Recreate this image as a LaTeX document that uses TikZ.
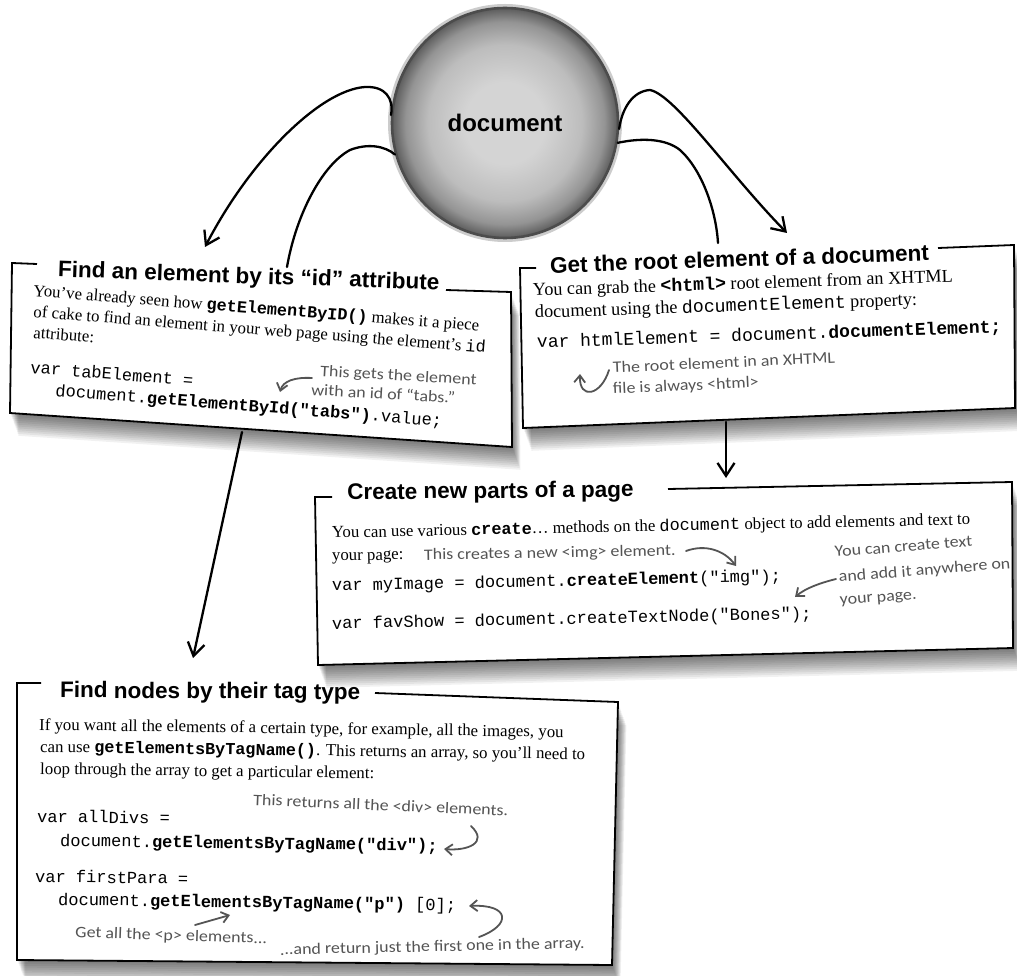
\documentclass[tikz,border=0pt]{standalone}
\usepackage{fontspec}
\setmainfont{Liberation Serif}
\newfontfamily\headfont{Liberation Sans}
\newfontfamily\cfont{Liberation Mono}
\newfontfamily\hfont[FakeStretch=1.12]{Carlito}
\usetikzlibrary{shapes.geometric,arrows.meta}
\definecolor{handgray}{gray}{0.33}
\definecolor{dcA}{gray}{0.83}
\definecolor{dcB}{gray}{0.74}
\definecolor{dcC}{gray}{0.58}
\definecolor{dcD}{gray}{0.36}
\pgfdeclareradialshading{docshade}{\pgfpoint{0bp}{0bp}}{color(0bp)=(dcA); color(9bp)=(dcA); color(17bp)=(dcB); color(22bp)=(dcC); color(25bp)=(dcD); color(50bp)=(dcD)}
\newcommand\cd[1]{{\cfont #1}}
\newcommand\cb[1]{{\cfont\bfseries #1}}
\newcommand\qshadow[8]{%
  \foreach \k in {1,...,12}{%
    \fill[black,opacity=0.055] (#1+0.7*\k,#2+1.9*\k) -- (#3+0.7*\k,#4+1.9*\k) -- (#5+0.7*\k,#6+1.9*\k) -- (#7+0.7*\k,#8+1.9*\k) -- cycle;}}
\tikzset{
  titletxt/.style={font=\headfont\bfseries\fontsize{22.5}{25}\selectfont, anchor=west, inner sep=0pt},
  bodytxt/.style={font=\fontsize{16.8}{20}\selectfont, anchor=base west, inner sep=0pt},
  bigbodytxt/.style={font=\fontsize{18.2}{22}\selectfont, anchor=base west, inner sep=0pt},
  codetxt/.style={font=\cfont\fontsize{17}{20}\selectfont, anchor=base west, inner sep=0pt},
  bigcodetxt/.style={font=\cfont\fontsize{18}{22}\selectfont, anchor=base west, inner sep=0pt},
  handtxt/.style={font=\hfont\fontsize{16}{19}\selectfont, text=handgray, anchor=base west, inner sep=0pt},
  boxedge/.style={draw=black, line width=1.8pt, line join=miter},
  boxfill/.style={fill=white},
  conn/.style={draw=black, line width=2.3pt, line cap=round},
  mainarrow/.style={conn, -{Straight Barb[length=13pt,width=17pt,line width=2.3pt]}},
  handarrow/.style={draw=handgray, line width=1.8pt, line cap=round, -{Straight Barb[length=7pt,width=11pt,line width=1.8pt]}},
}
\begin{document}
\begin{tikzpicture}[x=1pt,y=-1pt]
\useasboundingbox (0,0) rectangle (1017,976);
\fill[white] (0,0) rectangle (1017,976);

% ---- shadows
\qshadow{12}{263}{511}{292}{512}{447}{10}{413}
\qshadow{520}{268}{1014}{245}{1015}{408}{523}{428}
\qshadow{315}{497}{1012}{482}{1013}{648}{318}{665}
\qshadow{17}{683}{618}{702}{612}{965}{17}{960}

% ---- box bodies
\fill[boxfill] (12,263) -- (511,292) -- (512,447) -- (10,413) -- cycle;
\fill[boxfill] (520,268) -- (1014,245) -- (1015,408) -- (523,428) -- cycle;
\fill[boxfill] (315,497) -- (1012,482) -- (1013,648) -- (318,665) -- cycle;
\fill[boxfill] (17,683) -- (618,702) -- (612,965) -- (17,960) -- cycle;

\draw[boxedge] (37,264) -- (12,263) -- (10,413) -- (512,447) -- (511,292) -- (446,290);
\draw[boxedge] (536,268) -- (520,268) -- (523,428) -- (1015,408) -- (1014,245) -- (938,248);
\draw[boxedge] (332,497) -- (315,497) -- (318,665) -- (1013,648) -- (1012,482) -- (668,489);
\draw[boxedge] (41,683) -- (17,683) -- (17,960) -- (612,965) -- (618,702) -- (375,693);

% ---- document circle
\fill[gray!40] (505,123) ellipse [x radius=117, y radius=119];
\node[ellipse, minimum width=226pt, minimum height=230pt, inner sep=0pt,
      draw=black!70, line width=2.6pt, shade, shading=docshade,
      font=\headfont\bfseries\fontsize{24}{28}\selectfont] (doc) at (505,123) {document};

% ---- box 1
\node[titletxt, rotate=-2] (t1) at (58,271) {Find an element by its “id” attribute};
\node[bodytxt, rotate=-4.5] (b1l1) at (33,296) {You’ve already seen how \cb{getElementByID()} makes it a piece};
\node[bodytxt, rotate=-4.5] (b1l2) at (33,317) {of cake to find an element in your web page using the element’s \cd{id}};
\node[bodytxt, rotate=-4.5] (b1l3) at (33,338) {attribute:};
\node[codetxt, rotate=-4.5] (b1c1) at (30,373) {var tabElement =};
\node[codetxt, rotate=-4.5] (b1c2) at (55,396) {document.\textbf{getElementById("tabs")}.value;};
\node[handtxt, rotate=-3.3] (b1h1) at (320,376) {This gets the element};
\node[handtxt, rotate=-3.3] (b1h2) at (311,395) {with an id of “tabs.”};
\coordinate (b1ha) at (312,378);
\coordinate (b1hb) at (280,392);
\draw[handarrow] (b1ha) .. controls (295,377) and (283,381) .. (b1hb);

% ---- box 2
\node[titletxt, rotate=1.9] (t2) at (550,265) {Get the root element of a document};
\node[bigbodytxt, rotate=1.9] (b2l1) at (533,296) {You can grab the \cb{<html>} root element from an XHTML};
\node[bigbodytxt, rotate=1.9] (b2l2) at (535,318) {document using the \cd{documentElement} property:};
\node[bigcodetxt, rotate=1.9] (b2c1) at (537,348) {var htmlElement = document.\textbf{documentElement;}};
\node[handtxt, rotate=2.6] (b2h1) at (613,373) {The root element in an XHTML};
\node[handtxt, rotate=2.6] (b2h2) at (613,394) {file is always <html>};
\coordinate (b2ha) at (609,370);
\coordinate (b2hb) at (580,374);
\draw[handarrow] (b2ha) .. controls (601,396) and (579,400) .. (b2hb);

% ---- box 3
\node[titletxt, rotate=0.6] (t3) at (347,494) {Create new parts of a page};
\node[bodytxt, rotate=1.2] (b3l1) at (332,538) {You can use various \cb{create}… methods on the \cd{document} object to add elements and text to};
\node[bodytxt, rotate=1.2] (b3l2) at (332,561) {your page:};
\node[handtxt, rotate=1] (b3h1) at (424,560) {This creates a new <img> element.};
\coordinate (b3ha) at (686,551);
\coordinate (b3hb) at (736,566);
\draw[handarrow] (b3ha) .. controls (705,544) and (724,550) .. (b3hb);
\node[codetxt, rotate=1.2] (b3c1) at (332,591) {var myImage = document.\textbf{createElement}("img");};
\node[codetxt, rotate=1.2] (b3c2) at (332,629) {var favShow = document.createTextNode("Bones");};
\node[handtxt, rotate=4.5] (b3h2) at (835,557) {You can create text};
\node[handtxt, rotate=4.5] (b3h3) at (839,582) {and add it anywhere on};
\node[handtxt, rotate=4.5] (b3h4) at (840,605) {your page.};
\coordinate (b3hc) at (836,579);
\coordinate (b3hd) at (795,597);
\draw[handarrow] (b3hc) .. controls (820,583) and (806,588) .. (b3hd);

% ---- box 4
\node[titletxt, rotate=-0.3] (t4) at (60,692) {Find nodes by their tag type};
\node[bodytxt, rotate=-0.8] (b4l1) at (39,730) {If you want all the elements of a certain type, for example, all the images, you};
\node[bodytxt, rotate=-0.8] (b4l2) at (40,752) {can use \cb{getElementsByTagName()}. This returns an array, so you’ll need to};
\node[bodytxt, rotate=-0.8] (b4l3) at (40,774) {loop through the array to get a particular element:};
\node[handtxt, rotate=-2.5] (b4h1) at (253,805) {This returns all the <div> elements.};
\node[codetxt, rotate=-0.8] (b4c1) at (37,822) {var allDivs =};
\node[codetxt, rotate=-0.8] (b4c2) at (60,846) {document.\textbf{getElementsByTagName("div");}};
\coordinate (b4ha) at (471,826);
\coordinate (b4hb) at (444,849);
\draw[handarrow] (b4ha) .. controls (489,843) and (467,851) .. (b4hb);
\node[codetxt, rotate=-0.8] (b4c3) at (35,882) {var firstPara =};
\node[codetxt, rotate=-0.8] (b4c4) at (58,905) {document.\textbf{getElementsByTagName("p")} [0];};
\coordinate (b4hc) at (479,937);
\coordinate (b4hd) at (469,906);
\draw[handarrow] (b4hc) .. controls (512,925) and (510,904) .. (b4hd);
\coordinate (b4he) at (195,925);
\coordinate (b4hf) at (230,915);
\draw[handarrow] (b4he) -- (b4hf);
\node[handtxt, rotate=-2] (b4h2) at (75,937) {Get all the <p> elements...};
\node[handtxt, rotate=1.3] (b4h3) at (280,955) {...and return just the first one in the array.};

% ---- connectors
\coordinate (b1tip) at (205,247);
\coordinate (b1in) at (287,267);
\coordinate (b2tip) at (787,233);
\coordinate (b2in) at (718,243);
\coordinate (b1bot) at (242,432);
\coordinate (b4top) at (193,658);
\coordinate (b2bot) at (726,422);
\coordinate (b3top) at (726,478);
\draw[mainarrow] (doc.176) .. controls (394,98) and (385,86) .. (365,87) .. controls (320,90) and (250,160) .. (b1tip);
\draw[conn] (doc.196) .. controls (385,146) and (368,143) .. (350,150) .. controls (322,165) and (296,215) .. (b1in);
\draw[mainarrow] (doc.-3) .. controls (622,108) and (633,91) .. (650,90) .. controls (675,95) and (730,175) .. (b2tip);
\draw[conn] (doc.-10) .. controls (640,138) and (665,138) .. (680,150) .. controls (702,170) and (716,210) .. (b2in);
\draw[mainarrow] (b1bot) -- (b4top);
\draw[mainarrow] (b2bot) -- (b3top);
\end{tikzpicture}
\end{document}
